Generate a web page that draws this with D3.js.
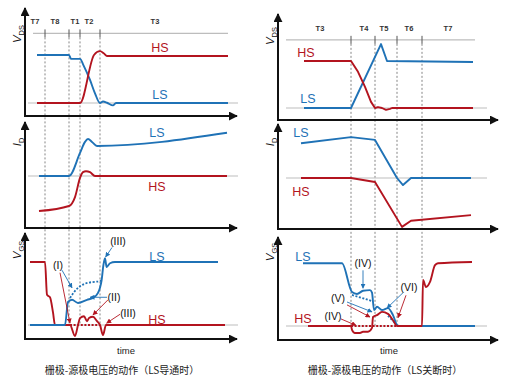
<!DOCTYPE html>
<html lang="zh">
<head>
<meta charset="UTF-8">
<title>栅极-源极电压的动作</title>
<script src="https://cdn.jsdelivr.net/npm/d3@7"></script>
<style>
  body { margin: 0; background: #fff; }
  svg { display: block; font-family: "Liberation Sans", Arial, sans-serif; }
</style>
</head>
<body>
<script>
const RED = "#b3141f", BLUE = "#1f72b6", GRAY = "#bdbdbd";

// phase boundaries (time units) and phase names
const leftPhaseTicks = [10, 22, 27.5, 37.5];
const leftPhaseNames = ["T7", "T8", "T1", "T2", "T3"];
const leftPhaseNamePos = [5, 15, 25, 32, 65];
const rightPhaseTicks = [36.5, 48.5, 59.5, 72];
const rightPhaseNames = ["T3", "T4", "T5", "T6", "T7"];
const rightPhaseNamePos = [21, 43, 53, 65.5, 85];

// series as [time, value]; value 10 = full level of the panel
// left column: LS turn-on
const ltLS = [[6,10],[22,10],[23,9.2],[27.5,9.2],[29.2,7.9],[32.5,4.8],[35,2],[37.5,0],[39,0.3],[41,0.05],[44,-0.5],[45.5,0],[101.5,0]];
const ltHS = [[6,0],[27.5,0],[34.5,10],[37.5,10.8],[39.5,10.3],[41,9.8],[101.5,9.8]];
const lmLS = [[7,0],[22,0],[27.5,4.8],[30,7.1],[31.5,7.7],[33.5,7.1],[36,6.25],[101,9]];
const lmHS = [[7,-7.3],[22,-6.25],[25,-4.4],[27.5,-0.4],[29,0.8],[30.5,1],[32.5,0.8],[35,0],[101,0]];
const lbLS = [[2.5,0],[20,0],[21.5,3.65],[23.5,4],[26.5,3.5],[31,4],[34,4.3],[36.5,5.1],[37.5,5.9],[38.3,7.1],[39.2,9.5],[40,10.6],[40.8,9.2],[42.5,9.8],[45,10],[96.5,10]];
const lbHS = [[2.5,10],[10,10],[11,4.8],[12.5,4.4],[14,2],[15,0],[22.5,0],[25,-1.75],[26.5,0],[27.5,1.1],[29.5,1.4],[31,0.6],[32,1.1],[34,1.3],[36,0.6],[37.5,0],[39,-1.6],[40.5,0],[100,0]];
const lbLSdotted = [[22.5,4.3],[26.5,5.9],[31.5,6.7],[36.5,6.9],[38.3,7.1]];
const lbHSdotted = [[22.5,0],[37.5,0]];

// right column: LS turn-off
const rtHS = [[13,10],[36.5,10],[40,7.7],[43.5,4.5],[46.5,1.3],[48.5,0],[50,0.2],[52,0],[54,-0.4],[56,-0.2],[57,0],[97.5,0]];
const rtLS = [[13,0],[36.5,0],[51.5,13.6],[54.5,10],[97.5,9.8]];
const rmLS = [[11.5,7.4],[36.5,8.7],[48.5,8.1],[59.5,0],[62.5,-1.5],[66.5,0],[96.5,0]];
const rmHS = [[11.5,0],[36.5,0],[48.5,-0.85],[62,-10.4],[66.5,-9.1],[96.5,-7.9]];
const rbLS = [[12.5,9.8],[32,9.8],[37,5.3],[39.5,5],[42.5,5.5],[46,5.6],[47,5.2],[48,2.5],[49.5,3],[52,2.5],[55,2.8],[57.5,1.7],[59.5,0.15],[60.5,0],[98.5,0]];
const rbHS = [[15,0],[36.5,0],[37,-0.6],[38.5,-1.1],[41,-1.1],[42.5,-0.9],[45,-0.9],[47,-0.3],[47.5,1.4],[49.5,1.7],[52,2.2],[55,1.9],[57.5,0.9],[59.5,0],[72,0],[72.5,7.2],[74,6.1],[76,6.9],[78.5,9.5],[80,9.8],[97,10]];
const rbLSdotted1 = [[37,4.85],[47,3.9]];
const rbLSdotted2 = [[55,1.6],[59.5,0.15]];
const rbHSdotted = [[36.5,0],[59.5,0]];

const xL = d3.scaleLinear().domain([0, 106]).range([25, 237]);
const xR = d3.scaleLinear().domain([0, 110]).range([278, 498]);

const svg = d3.select("body").append("svg").attr("width", 518).attr("height", 389);
const defs = svg.append("defs");
function marker(id, color, size) {
  defs.append("marker").attr("id", id)
    .attr("viewBox", "0 0 10 10").attr("refX", 9).attr("refY", 5)
    .attr("markerWidth", size).attr("markerHeight", size)
    .attr("markerUnits", "userSpaceOnUse").attr("orient", "auto")
    .append("path").attr("d", "M0,0L10,5L0,10z").attr("fill", color);
}
marker("axis", "#111", 9);
marker("ared", RED, 5);
marker("ablue", BLUE, 5);

const panels = [
  { x: xL, axisY: 116, topY: 8,   base: 103, unit: 4.8, sym: "V", sub: "DS", labY: 34,
    lines: [[ltLS, BLUE], [ltHS, RED]], labels: [["HS", 67.5, 11.6, RED], ["LS", 67.5, 1.7, BLUE]] },
  { x: xL, axisY: 228, topY: 122, base: 176, unit: 4.8, sym: "I", sub: "D", labY: 142,
    lines: [[lmLS, BLUE], [lmHS, RED]], labels: [["LS", 66, 9, BLUE], ["HS", 66, -2.3, RED]] },
  { x: xL, axisY: 339, topY: 233, base: 325, unit: 6.3, sym: "V", sub: "GS", labY: 250,
    lines: [[lbHS, RED], [lbLS, BLUE]], dotted: [[lbLSdotted, BLUE], [lbHSdotted, RED]],
    labels: [["LS", 66, 10.8, BLUE], ["HS", 66, 0.8, RED]] },
  { x: xR, axisY: 120, topY: 14,  base: 108, unit: 4.7, sym: "V", sub: "DS", labY: 36, linear: true,
    lines: [[rtLS, BLUE], [rtHS, RED]], labels: [["HS", 14, 11.7, RED], ["LS", 15, 1.9, BLUE]] },
  { x: xR, axisY: 229, topY: 124, base: 178, unit: 4.7, sym: "I", sub: "D", labY: 142, linear: true,
    lines: [[rmLS, BLUE], [rmHS, RED]], labels: [["LS", 11.5, 9.6, BLUE], ["HS", 11.5, -2.8, RED]] },
  { x: xR, axisY: 340, topY: 237, base: 326, unit: 6.4, sym: "V", sub: "GS", labY: 252,
    lines: [[rbLS, BLUE], [rbHS, RED]], dotted: [[rbLSdotted1, BLUE], [rbLSdotted2, BLUE], [rbHSdotted, RED]],
    labels: [["LS", 12.5, 10.8, BLUE], ["HS", 12.5, 1.1, RED]] }
];
panels.forEach(p => {
  p.y = d3.scaleLinear().domain([0, 10]).range([p.base, p.base - 10 * p.unit]);
});

// phase strip + dashed boundaries
function phases(top, bottom, ticks, names, namePos, ends, span) {
  const x = top.x, yy = top.y(14.5);
  svg.append("line").attr("x1", x(span[0])).attr("x2", x(span[1]))
    .attr("y1", yy).attr("y2", yy).attr("stroke", GRAY).attr("stroke-width", 1.2);
  ticks.forEach((t, i) => {
    svg.append("line").attr("x1", x(t)).attr("x2", x(t)).attr("y1", yy - 4).attr("y2", yy + 4)
      .attr("stroke", "#555").attr("stroke-width", 1);
    svg.append("line").attr("x1", x(t)).attr("x2", x(t)).attr("y1", yy + 4).attr("y2", bottom.y(ends[i]))
      .attr("stroke", "#777").attr("stroke-width", 0.9).attr("stroke-dasharray", "2,2");
  });
  names.forEach((n, i) => {
    svg.append("text").attr("x", x(namePos[i])).attr("y", yy - 9)
      .attr("text-anchor", "middle").attr("font-size", 7.5).attr("font-weight", "bold")
      .attr("fill", "#333").text(n);
  });
}
phases(panels[0], panels[2], leftPhaseTicks, leftPhaseNames, leftPhaseNamePos, [10, 0, 0, 0], [4, 101.5]);
phases(panels[3], panels[5], rightPhaseTicks, rightPhaseNames, rightPhaseNamePos, [0, 0, 0, 7.2], [4, 98.5]);

panels.forEach(p => {
  const g = svg.append("g");
  const left = p.x === xL;
  // zero reference
  g.append("line").attr("x1", p.x(left ? 1.5 : 4)).attr("x2", p.x(left ? 106.5 : 104.5))
    .attr("y1", p.y(0)).attr("y2", p.y(0)).attr("stroke", GRAY).attr("stroke-width", 1);
  const line = d3.line().x(d => p.x(d[0])).y(d => p.y(d[1]))
    .curve(p.linear ? d3.curveLinear : d3.curveMonotoneX);
  (p.dotted || []).forEach(([d, c]) => {
    g.append("path").attr("d", d3.line().x(d => p.x(d[0])).y(d => p.y(d[1])).curve(d3.curveNatural)(d))
      .attr("fill", "none").attr("stroke", c).attr("stroke-width", 1.8).attr("stroke-dasharray", "2,1.6");
  });
  p.lines.forEach(([d, c]) => {
    g.append("path").attr("d", line(d)).attr("fill", "none").attr("stroke", c)
      .attr("stroke-width", 1.9).attr("stroke-linejoin", "round");
  });
  p.labels.forEach(([txt, t, v, c]) => {
    g.append("text").attr("x", p.x(t)).attr("y", p.y(v)).attr("dy", "0.35em")
      .attr("text-anchor", "middle").attr("font-size", 12.5).attr("fill", c).text(txt);
  });
  // axes
  const x0 = p.x.range()[0], x1 = p.x.range()[1];
  g.append("line").attr("x1", x0).attr("x2", x0).attr("y1", p.axisY + 1).attr("y2", p.topY)
    .attr("stroke", "#111").attr("stroke-width", 2).attr("marker-end", "url(#axis)");
  g.append("line").attr("x1", x0 - 1).attr("x2", x1).attr("y1", p.axisY).attr("y2", p.axisY)
    .attr("stroke", "#111").attr("stroke-width", 2).attr("marker-end", "url(#axis)");
  const lab = g.append("text").attr("transform", `translate(${x0 - 4},${p.labY}) rotate(-90)`)
    .attr("text-anchor", "middle").attr("font-size", 11.5).attr("fill", "#111");
  lab.append("tspan").attr("font-style", "italic").text(p.sym);
  lab.append("tspan").attr("font-size", 7.5).attr("dy", 2.5).text(p.sub);
});

// annotations on the gate-source panels: label [text, t, v], arrows [from, to, colour]
const lbNotes = [["(I)", 16.5, 9.5], ["(II)", 44.5, 4.4], ["(III)", 46.5, 13.3], ["(III)", 51.5, 1.9]];
const lbArrows = [[[18.5,8.7],[23.5,5.9],"b"], [[17.5,8.3],[22.5,0.3],"r"], [[41,4.4],[32.5,4.4],"b"],
  [[41.5,4],[34,1.6],"r"], [[43.5,12.3],[40.3,10.8],"b"], [[47.5,1.7],[40.8,0.3],"r"]];
const rbNotes = [["(IV)", 42.5, 9.8], ["(V)", 30, 4.4], ["(IV)", 27.5, 1.5], ["(VI)", 65.5, 6]];
const rbArrows = [[[42.5,8.7],[42.5,5.9],"b"], [[34.5,3.75],[47,2.2],"b"], [[34.5,3.3],[46,1.4],"r"],
  [[31.5,1.1],[39,0.1],"r"], [[62.5,5.2],[54.5,2.8],"b"], [[64,4.8],[60,1.3],"r"]];
function annotate(p, notes, arrows) {
  arrows.forEach(([a, b, c]) => {
    svg.append("line").attr("x1", p.x(a[0])).attr("y1", p.y(a[1]))
      .attr("x2", p.x(b[0])).attr("y2", p.y(b[1]))
      .attr("stroke", c === "r" ? RED : BLUE).attr("stroke-width", 0.9)
      .attr("marker-end", c === "r" ? "url(#ared)" : "url(#ablue)");
  });
  notes.forEach(([txt, t, v]) => {
    svg.append("text").attr("x", p.x(t)).attr("y", p.y(v)).attr("dy", "0.35em")
      .attr("text-anchor", "middle").attr("font-size", 10.5).attr("fill", "#111").text(txt);
  });
}
annotate(panels[2], lbNotes, lbArrows);
annotate(panels[5], rbNotes, rbArrows);

// bottom texts
[[xL, "栅极-源极电压的动作（LS导通时）", 126], [xR, "栅极-源极电压的动作（LS关断时）", 389]].forEach(([x, cap, cx]) => {
  svg.append("text").attr("x", cx).attr("y", 354).attr("text-anchor", "middle")
    .attr("font-size", 9.5).attr("fill", "#222").text("time");
  svg.append("text").attr("x", cx - 4).attr("y", 374).attr("text-anchor", "middle")
    .attr("font-family", "'Noto Sans CJK SC', sans-serif").attr("font-size", 10).attr("fill", "#222").text(cap);
});
</script>
</body>
</html>
